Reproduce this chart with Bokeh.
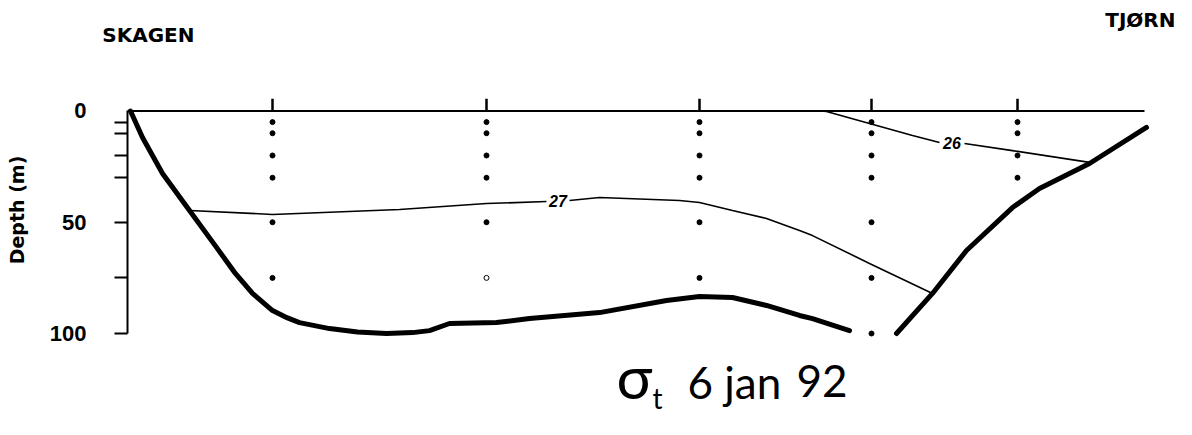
from bokeh.plotting import figure
from bokeh.models import Range1d, FixedTicker, Label, ColumnDataSource, LinearAxis
from bokeh.embed import file_html
from bokeh.resources import INLINE
from bokeh.core.properties import value

nan = float("nan")

# --- data (distance along section, depth in m) ---
station_x = [14.5, 35.9, 57.2, 74.4, 89.0]
station_depths = [
    [5, 10, 20, 30, 50, 75],
    [5, 10, 20, 30, 50, 75],
    [5, 10, 20, 30, 50, 75],
    [5, 10, 20, 30, 50, 75, 100],
    [5, 10, 20, 30],
]
hollow_samples = [(1, 75)]
section_end = 101.7

bottom_west_x = [0.3, 1.5, 3.5, 6.2, 8.9, 10.7, 12.5, 14.5, 16.0, 17.2, 20.2, 23.0, 25.9, 28.5, 30.2, 32.2,
                 36.9, 40.2, 47.2, 53.9, 57.2, 60.5, 63.9, 67.2, 68.5, 72.2]
bottom_west_d = [0.0, 11.9, 28.1, 44.7, 61.3, 72.5, 82.0, 89.7, 93.0, 95.1, 97.8, 99.3, 100.0, 99.6, 98.7, 95.5,
                 95.1, 93.3, 90.6, 85.2, 83.4, 83.8, 87.4, 91.9, 93.3, 98.7]
bottom_east_x = [76.9, 80.5, 83.9, 88.5, 91.2, 96.2, 101.9]
bottom_east_d = [100.0, 82.0, 62.7, 43.4, 34.8, 23.6, 7.4]

iso27_x = [6.2, 14.5, 27.2, 35.9, 41.9, nan, 44.2, 47.2, 55.2, 57.2, 60.5, 63.9, 67.2, 68.5, 74.2, 80.5]
iso27_d = [44.7, 46.5, 44.3, 41.6, 40.7, nan, 40.2, 38.9, 40.2, 41.1, 44.7, 48.3, 53.7, 56.0, 68.5, 82.0]
iso26_x = [69.4, 69.9, 74.2, 78.5, 81.2, nan, 83.7, 88.5, 96.2]
iso26_d = [0.0, 0.2, 5.6, 11.0, 14.2, nan, 14.6, 17.8, 23.1]

iso_labels = ["27", "26"]
iso_label_x = [43.05, 82.45]
iso_label_d = [40.4, 14.4]

depth_major = [0, 50, 100]
depth_minor = [5, 10, 20, 30, 50, 75, 100]

west_name, west_tick = "SKAGEN", -34
east_name, east_x, east_d = "TJØRN", 104.8, -40.7

title_parts = ["σ", "t", "6 jan", "92"]

# --- figure ---
p = figure(width=1176, height=419, output_backend="svg", toolbar_location=None, title=None,
           x_range=Range1d(0, 104.9), y_range=Range1d(138.65, -49.66),
           x_axis_location=None, y_axis_location="left",
           min_border_left=127, min_border_right=0, min_border_top=0, min_border_bottom=0)
p.outline_line_color = None
p.xgrid.visible = False
p.ygrid.visible = False
p.background_fill_color = "white"
p.border_fill_color = "white"

ax = p.yaxis[0]
ax.ticker = FixedTicker(ticks=depth_major, minor_ticks=depth_minor)
ax.bounds = (0, 100)
ax.axis_line_width = 2
ax.axis_line_color = "black"
ax.major_tick_out = 0
ax.major_tick_in = 0
ax.minor_tick_out = 13
ax.minor_tick_in = 0
ax.minor_tick_line_width = 2
ax.minor_tick_line_color = "black"
ax.major_label_standoff = 28
ax.major_label_text_font = "Liberation Sans"
ax.major_label_text_font_style = "bold"
ax.major_label_text_font_size = "22px"
ax.major_label_text_color = "black"
ax.axis_label = "Depth (m)"
ax.axis_label_text_font = "DejaVu Sans"
ax.axis_label_text_font_style = "bold"
ax.axis_label_text_font_size = "19px"
ax.axis_label_text_color = "black"
ax.axis_label_standoff = 19

# west end name on an outer (label-only) axis so it may sit left of the frame
wax = LinearAxis(ticker=FixedTicker(ticks=[west_tick]), major_label_overrides={west_tick: west_name})
wax.axis_line_color = None
wax.major_tick_line_color = None
wax.minor_tick_line_color = None
wax.major_tick_out = 0
wax.major_tick_in = 0
wax.minor_tick_out = 0
wax.minor_tick_in = 0
wax.major_label_standoff = -192
wax.major_label_text_font = "DejaVu Sans"
wax.major_label_text_font_style = "bold"
wax.major_label_text_font_size = "20px"
wax.major_label_text_color = "black"
p.add_layout(wax, "left")

# east end name
p.add_layout(Label(x=east_x, y=east_d, text=east_name, text_font="DejaVu Sans", text_font_style="bold",
                   text_font_size="20px", text_baseline="middle", text_align="right", text_color="black"))

# surface line
p.line([0, section_end], [0, 0], line_color="black", line_width=2)

# station markers above surface
p.segment(x0=station_x, y0=[0] * len(station_x), x1=station_x, y1=[-5.5] * len(station_x),
          line_color="black", line_width=2.5)

# sample dots
sx, sd, fill = [], [], []
for i, (x, ds) in enumerate(zip(station_x, station_depths)):
    for d in ds:
        sx.append(x)
        sd.append(d)
        fill.append("white" if (i, d) in hollow_samples else "black")
src = ColumnDataSource(dict(x=sx, y=sd, fill=fill))
p.scatter("x", "y", source=src, size=5, fill_color="fill", line_color="black", line_width=1)

# bottom topography
p.line(bottom_west_x, bottom_west_d, line_color="black", line_width=5, line_join="round", line_cap="round")
p.line(bottom_east_x, bottom_east_d, line_color="black", line_width=5, line_join="round", line_cap="round")

# isopycnals
p.line(iso27_x, iso27_d, line_color="black", line_width=1.6)
p.line(iso26_x, iso26_d, line_color="black", line_width=1.6)
p.text(x=iso_label_x, y=iso_label_d, text=iso_labels, text_align="center", text_baseline="middle",
       text_font=value("Liberation Sans"), text_font_style="bold italic", text_font_size="16px",
       text_color="black")

# handwritten title (sigma-t, date)
title_x = [48.9, 52.5, 56.0, 66.9]
title_d = [119.0, 128.8, 121.8, 121.4]
title_size = ["60px", "28px", "44px", "44px"]
for t, tx, td, ts in zip(title_parts, title_x, title_d, title_size):
    p.add_layout(Label(x=tx, y=td, text=t, text_font="Lato", text_font_size=ts,
                       text_baseline="middle", text_align="left", text_color="black"))

open("out.html", "w").write(file_html(p, INLINE))
